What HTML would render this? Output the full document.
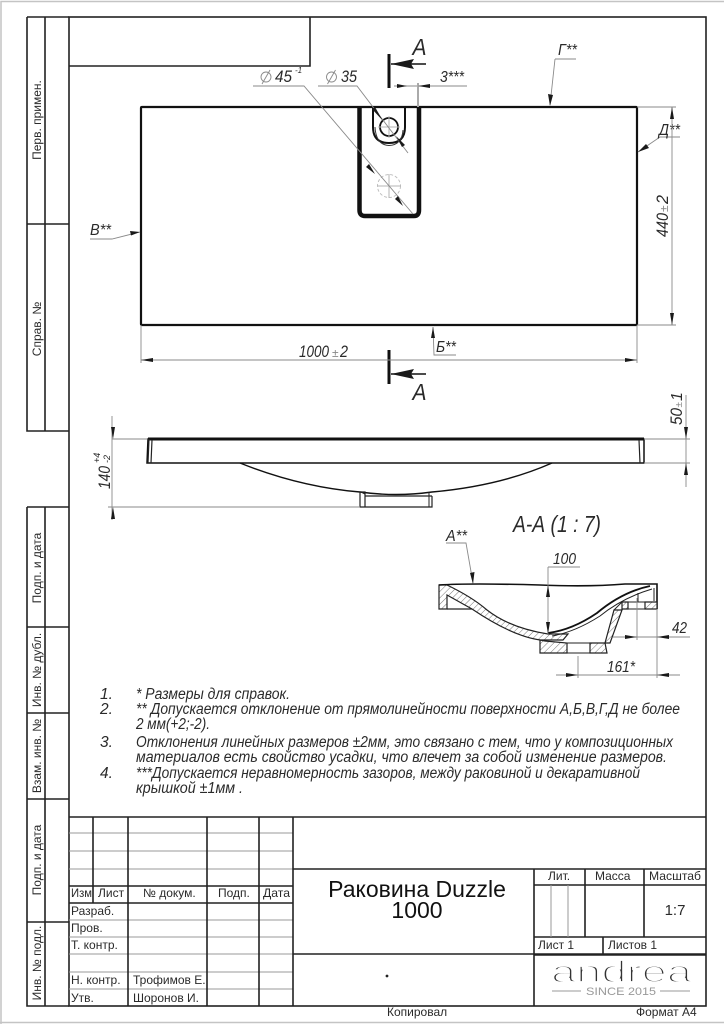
<!DOCTYPE html>
<html><head><meta charset="utf-8"><style>
html,body{margin:0;padding:0;background:#fff}
svg{display:block}
text{font-family:"Liberation Sans","DejaVu Sans",sans-serif;fill:#2a2a2a}
.i{font-style:italic}
.k{stroke:#222;stroke-width:1.6;fill:none}
.g{stroke:#b5b5b5;stroke-width:1;fill:none}
.d{stroke:#8a8a8a;stroke-width:.9;fill:none}
.a{fill:#1a1a1a;stroke:none}
</style></head><body>
<svg width="724" height="1024" viewBox="0 0 724 1024" xmlns="http://www.w3.org/2000/svg">
<defs><pattern id="h" width="4.500" height="4.500" patternUnits="userSpaceOnUse" patternTransform="rotate(45)"><rect width="5" height="5" fill="#fff"/><line x1="0" y1="0" x2="0" y2="5" stroke="#777" stroke-width="1"/></pattern></defs>
<rect width="724" height="1024" fill="#fff"/>
<path d="M1 1024V1.500H724M0 1022.500H724" stroke="#c4c4c4" stroke-width="1.500" fill="none"/>

<!-- frame -->
<rect x="69" y="17" width="637" height="989" class="k"/>
<path class="k" d="M69 66H310V17"/>
<path class="k" d="M27 17H69M27 17V431H69M45 17V431M27 224H69"/>
<path class="k" d="M27 507H69M27 507V1006H69M45 507V1006M27 627H69M27 713H69M27 799H69M27 922H69"/>
<g font-size="12" text-anchor="middle">
<text transform="translate(41,120) rotate(-90)">Перв. примен.</text>
<text transform="translate(41,329) rotate(-90)">Справ. №</text>
<text transform="translate(41,568) rotate(-90)">Подп. и дата</text>
<text transform="translate(41,670) rotate(-90)">Инв. № дубл.</text>
<text transform="translate(41,756) rotate(-90)">Взам. инв. №</text>
<text transform="translate(41,860) rotate(-90)">Подп. и дата</text>
<text transform="translate(41,963) rotate(-90)">Инв. № подл.</text>
</g>

<!-- plan -->
<path d="M142 107H636Q637 107 637 108V324Q637 325 636 325H142Q141 325 141 324V108Q141 107 142 107Z" fill="none" stroke="#111" stroke-width="2.200"/>
<path d="M359.500 107V210Q359.500 216 365 216H414Q419 216 419 210V107" fill="none" stroke="#111" stroke-width="4.500"/>
<path d="M373 108V127Q373 143 389 143Q405 143 405 127V108" fill="none" stroke="#111" stroke-width="2"/>
<path d="M375 127Q376 145 389 145.500Q402 145 403 130" fill="none" stroke="#333" stroke-width="1"/>
<circle cx="389" cy="127" r="9" fill="#fff" stroke="#111" stroke-width="1.800"/>
<path class="g" d="M389 116V138M378 127H400"/>
<circle cx="389" cy="186" r="11.500" fill="none" stroke="#bbb" stroke-width=".9" stroke-dasharray="3 2"/>
<path class="g" d="M389 174V198M377 186H401"/>

<!-- section marks -->
<path d="M389 54V88" stroke="#111" stroke-width="3"/>
<path d="M391 64H426" stroke="#111" stroke-width="1.600"/>
<polygon class="a" points="391,64 414,59 411,64 414,69"/>
<text class="i" x="412.500" y="55" font-size="23" textLength="14" lengthAdjust="spacingAndGlyphs">А</text>
<path d="M389 350V384" stroke="#111" stroke-width="3"/>
<path d="M391 374H426" stroke="#111" stroke-width="1.600"/>
<polygon class="a" points="391,374 414,369 411,374 414,379"/>
<text class="i" x="412.500" y="400" font-size="23" textLength="14" lengthAdjust="spacingAndGlyphs">А</text>

<!-- diameters -->
<path class="d" d="M253 86H304L413 214M318 86H357L408 153"/>
<polygon class="a" points="383,121 372,109 375,107"/>
<polygon class="a" points="396,136 405,145 402,147"/>
<polygon class="a" points="375,174 366,167 369,164"/>
<polygon class="a" points="403,206 395,199 398,196"/>
<g stroke="#8a8a8a" fill="none" stroke-width=".9">
<circle cx="266" cy="77" r="5"/><path d="M262 84L270 70"/>
<circle cx="331.500" cy="77" r="5"/><path d="M327.500 84L335.500 70"/>
</g>
<text class="i" x="275" y="82" font-size="16.500" textLength="17" lengthAdjust="spacingAndGlyphs">45</text>
<text class="i" x="295" y="73" font-size="8">-1</text>
<text class="i" x="341" y="82" font-size="16.500" textLength="16" lengthAdjust="spacingAndGlyphs">35</text>

<!-- 3*** -->
<path class="d" d="M394 86H467"/>
<path d="M418 83V107" stroke="#aaa" stroke-width="2"/>
<polygon class="a" points="407,86 397,84 397,88"/>
<polygon class="a" points="418,86 430,84 430,88"/>
<text class="i" x="440" y="82" font-size="16" textLength="24" lengthAdjust="spacingAndGlyphs">3***</text>

<!-- leaders -->
<path class="d" d="M555 59H576M555 59L550 105"/>
<polygon class="a" points="550,106 548,94 553,95"/>
<text class="i" x="558" y="55" font-size="15.500" textLength="19" lengthAdjust="spacingAndGlyphs">Г**</text>
<path class="d" d="M660 137H680M660 137L638 152"/>
<polygon class="a" points="638,152 646,144 649,148"/>
<text class="i" x="659" y="135" font-size="16" textLength="21" lengthAdjust="spacingAndGlyphs">Д**</text>
<path class="d" d="M90 239H112L140 232"/>
<polygon class="a" points="140,232 130,231 131,235.500"/>
<text class="i" x="90" y="235" font-size="15.500" textLength="21" lengthAdjust="spacingAndGlyphs">В**</text>
<path class="d" d="M433 327L434 355H456"/>
<polygon class="a" points="433,327 431,338 435,338"/>
<text class="i" x="436" y="352" font-size="15.500" textLength="20" lengthAdjust="spacingAndGlyphs">Б**</text>

<!-- 440 -->
<path class="d" d="M637 107H676M637 325H676M672 107V325"/>
<polygon class="a" points="672,107 670,119 674,119"/>
<polygon class="a" points="672,325 670,313 674,313"/>
<text class="i" transform="translate(668,237) rotate(-90)" font-size="17" textLength="24" lengthAdjust="spacingAndGlyphs">440</text>
<text class="i" transform="translate(668,212) rotate(-90)" font-size="12" fill="#888" style="fill:#888">±</text>
<text class="i" transform="translate(668,204) rotate(-90)" font-size="17" textLength="9" lengthAdjust="spacingAndGlyphs">2</text>

<!-- 1000 -->
<path class="d" d="M141 325V363M637 325V363M141 360H637"/>
<polygon class="a" points="141,360 153,358 153,362"/>
<polygon class="a" points="637,360 625,358 625,362"/>
<text class="i" x="299" y="357" font-size="17" textLength="30" lengthAdjust="spacingAndGlyphs">1000</text>
<text class="i" x="332" y="357" font-size="12" style="fill:#888">±</text>
<text class="i" x="340" y="357" font-size="17" textLength="8" lengthAdjust="spacingAndGlyphs">2</text>

<!-- front view -->
<path d="M148 439H644V463H147Z" fill="#fff" stroke="#111" stroke-width="1.500"/>
<path d="M148 439H644" stroke="#111" stroke-width="3"/>
<path d="M149 439L148 463M152 440L151 463M639 440L640 463" stroke="#222" stroke-width="1.200" fill="none"/>
<path d="M240 463Q300 487 360 492Q396 497 432 492Q500 486 552 463" fill="none" stroke="#111" stroke-width="1.400"/>
<path d="M360 492H365V507H360ZM365 507H432V496M365 496H432" fill="none" stroke="#222" stroke-width="1.200"/>
<path d="M361 492L365 494M429 492V507" stroke="#222" stroke-width="1" fill="none"/>

<path class="d" d="M112 439H147M108 507H360M112 416V520"/>
<polygon class="a" points="113,439 111,427 115,427"/>
<polygon class="a" points="113,507 111,519 115,519"/>
<text class="i" transform="translate(110,489) rotate(-90)" font-size="17" textLength="23" lengthAdjust="spacingAndGlyphs">140</text>
<text class="i" transform="translate(100,463) rotate(-90)" font-size="9">+4</text>
<text class="i" transform="translate(110,463) rotate(-90)" font-size="9">-2</text>

<path class="d" d="M644 439H690M644 463H690M686 395V487"/>
<polygon class="a" points="686,439 684,427 688,427"/>
<polygon class="a" points="686,463 684,475 688,475"/>
<text class="i" transform="translate(682,425) rotate(-90)" font-size="16.500" textLength="17" lengthAdjust="spacingAndGlyphs">50</text>
<text class="i" transform="translate(682,407.500) rotate(-90)" font-size="10" style="fill:#888">±</text>
<text class="i" transform="translate(682,401) rotate(-90)" font-size="16">1</text>

<!-- section -->
<text class="i" x="513" y="532" font-size="23" textLength="88" lengthAdjust="spacingAndGlyphs">А-А (1 : 7)</text>
<text class="i" x="446" y="541" font-size="15.500" textLength="21" lengthAdjust="spacingAndGlyphs">А**</text>
<path class="d" d="M446 543H466L473 583"/>
<polygon class="a" points="473,584 470,573 474.500,572"/>

<path d="M439 585H447Q472 597 487 610Q510 628 548 634L568 634L563 640H540Q512 636 472 609L447 595V609H439Z" fill="url(#h)" stroke="#222" stroke-width="1.200"/>
<path d="M439 585Q470 583 540 585Q590 587 625 584H657V609" fill="none" stroke="#111" stroke-width="1.600"/>
<path d="M447 609H472" stroke="#222" stroke-width="1.200"/>
<path d="M548 633Q572 630 597 613Q622 592 650 586" fill="none" stroke="#111" stroke-width="1.800"/>
<path d="M552 636Q575 632 600 616Q622 598 652 589" fill="none" stroke="#222" stroke-width="1"/>
<path d="M540 640V653H567V643L545 641Z" fill="url(#h)" stroke="#222" stroke-width="1.200"/>
<path d="M590 653V643H605L607 653Z" fill="url(#h)" stroke="#222" stroke-width="1.200"/>
<path d="M567 653H590M567 643H590" stroke="#222" stroke-width="1"/>
<path d="M605 643L614 610H622L610 643Z" fill="url(#h)" stroke="#222" stroke-width="1.200"/>
<path d="M622 602H628V609H622ZM645 602H657V609H645Z" fill="url(#h)" stroke="#222" stroke-width="1.200"/>
<path d="M628 602H645M628 609H645M638 593V602M654 588V601" stroke="#222" stroke-width="1"/>
<path d="M614 610L622 602" stroke="#222" stroke-width="1"/>

<path class="d" d="M548 567H580M548 567V634"/>
<polygon class="a" points="548,585 546,597 550,597"/>
<polygon class="a" points="548,634 546,622 550,622"/>
<text class="i" x="553" y="564" font-size="16" textLength="23" lengthAdjust="spacingAndGlyphs">100</text>
<path class="d" d="M613 637H690M637 598V640M657 609V678M578 656V678M556 675H680"/>
<polygon class="a" points="637,637 625,635 625,639"/>
<polygon class="a" points="657,637 669,635 669,639"/>
<polygon class="a" points="578,675 566,673 566,677"/>
<polygon class="a" points="657,675 669,673 669,677"/>
<text class="i" x="672" y="633" font-size="16" textLength="15" lengthAdjust="spacingAndGlyphs">42</text>
<text class="i" x="607" y="672" font-size="16" textLength="28" lengthAdjust="spacingAndGlyphs">161*</text>

<!-- notes -->
<g class="i" font-size="15.500">
<text x="100" y="699">1.</text>
<text x="100" y="714">2.</text>
<text x="100" y="747">3.</text>
<text x="100" y="778">4.</text>
<text x="136" y="699" textLength="154" lengthAdjust="spacingAndGlyphs">*  Размеры для справок.</text>
<text x="136" y="714" textLength="544" lengthAdjust="spacingAndGlyphs">**  Допускается отклонение от прямолинейности поверхности А,Б,В,Г,Д не более</text>
<text x="136" y="729" textLength="74" lengthAdjust="spacingAndGlyphs">2 мм(+2;-2).</text>
<text x="136" y="747" textLength="537" lengthAdjust="spacingAndGlyphs">Отклонения линейных размеров ±2мм, это связано с тем, что у композиционных</text>
<text x="136" y="762" textLength="531" lengthAdjust="spacingAndGlyphs">материалов есть свойство усадки, что влечет за собой изменение размеров.</text>
<text x="136" y="778" textLength="504" lengthAdjust="spacingAndGlyphs">***Допускается неравномерность зазоров, между раковиной и декаративной</text>
<text x="136" y="793" textLength="107" lengthAdjust="spacingAndGlyphs">крышкой  ±1мм .</text>
</g>

<!-- title block -->
<path stroke="#999" stroke-width="1" fill="none" d="M69 833H293M69 851H293M69 869H293M69 920H293M69 937H293M69 954H293M69 972H293M69 989H293"/>
<path class="k" d="M69 817H706M69 886H293M69 903H293M93 817V903M128 817V1006M207 817V1006M259 817V1006M293 817V1006"/>
<path class="k" d="M293 869H706M293 954H706M534 869V1006M534 885H706M585 869V937M644 869V937M534 937H706M534 955H706M603 937V955"/>
<path stroke="#999" stroke-width="1" d="M551 885V937M568 885V937"/>
<g font-size="12">
<text x="71" y="897" textLength="21" lengthAdjust="spacingAndGlyphs">Изм</text><text x="98" y="897">Лист</text>
<text x="143" y="897">№ докум.</text><text x="218" y="897">Подп.</text><text x="263" y="897" textLength="27" lengthAdjust="spacingAndGlyphs">Дата</text>
<text x="71" y="915">Разраб.</text><text x="71" y="932">Пров.</text><text x="71" y="949">Т. контр.</text>
<text x="71" y="984">Н. контр.</text><text x="71" y="1002">Утв.</text>
<text x="133" y="984">Трофимов Е.</text><text x="133" y="1002">Шоронов И.</text>
<text x="548" y="880">Лит.</text><text x="595" y="880">Масса</text><text x="649" y="880" textLength="52" lengthAdjust="spacingAndGlyphs">Масштаб</text>
<text x="538" y="949">Лист 1</text><text x="608" y="949">Листов 1</text>
<text x="387" y="1016">Копировал</text><text x="636" y="1016">Формат А4</text>
</g>
<text x="417" y="897" font-size="23" text-anchor="middle" style="fill:#111">Раковина Duzzle</text>
<text x="417" y="918" font-size="23" text-anchor="middle" style="fill:#111">1000</text>
<text x="675" y="915" font-size="15" text-anchor="middle">1:7</text>
<circle cx="387" cy="976" r="1.400" fill="#222"/>

<!-- logo -->
<text x="551" y="982" font-size="31" textLength="141" lengthAdjust="spacingAndGlyphs" style="fill:#333;stroke:#fff;stroke-width:1.800">andrea</text>
<path d="M552 991H581M660 991H690" stroke="#999" stroke-width="1"/>
<text x="586" y="995" font-size="11" textLength="70" lengthAdjust="spacingAndGlyphs" style="fill:#999">SINCE 2015</text>
</svg>
</body></html>
